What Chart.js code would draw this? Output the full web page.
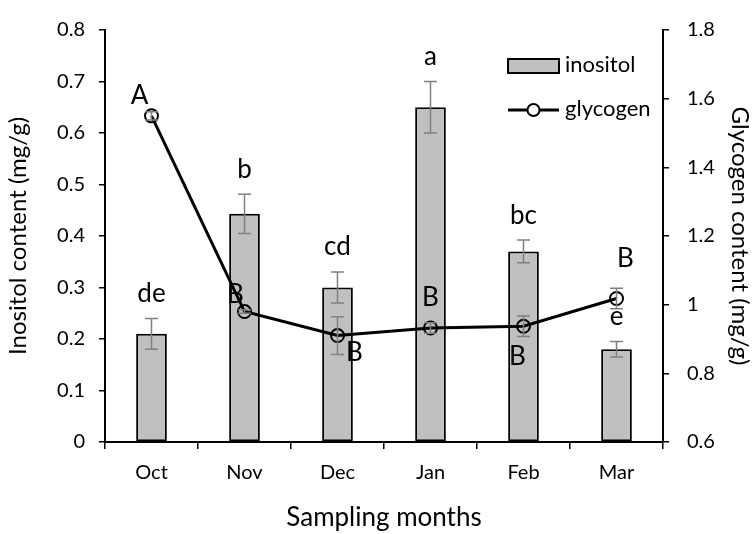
<!DOCTYPE html>
<html>
<head>
<meta charset="utf-8">
<script src="https://cdn.jsdelivr.net/npm/chart.js@4.4.1/dist/chart.umd.min.js"></script>
<style>
  html, body { margin: 0; padding: 0; background: #fff; }
  #wrap { width: 756px; height: 534px; }
</style>
</head>
<body>
<div id="wrap"><canvas id="chart" width="756" height="534"></canvas></div>
<script>
// Data
var months = ['Oct', 'Nov', 'Dec', 'Jan', 'Feb', 'Mar'];
var inositol = [0.21, 0.443, 0.30, 0.65, 0.37, 0.18];
var inositolErr = [0.03, 0.038, 0.03, 0.05, 0.022, 0.015];
var inositolLetters = ['de', 'b', 'cd', 'a', 'bc', 'e'];
var glycogen = [1.55, 0.98, 0.91, 0.932, 0.937, 1.018];
var glycogenErr = [0.012, 0.005, 0.055, 0.015, 0.03, 0.03];
var glycogenLetters = ['A', 'B', 'B', 'B', 'B', 'B'];

var FONT = 'Lato, "Open Sans", sans-serif';

// letter offsets (px) from each glycogen point
var glyOffsets = [[-12, -20], [-9, -17], [17, 17], [0, -30], [-6, 30], [9, -40]];

// error bars + significance letters
var annotatePlugin = {
    id: 'annotate',
    afterDatasetsDraw: function(chart) {
        var c = chart.ctx;
        var y = chart.scales.y;
        var y1 = chart.scales.y1;
        var barMeta = chart.getDatasetMeta(0);
        var lineMeta = chart.getDatasetMeta(1);
        c.save();
        c.strokeStyle = '#808080';
        c.lineWidth = 1.5;
        function errBar(x, yTop, yBot) {
            c.beginPath();
            c.moveTo(x, yTop); c.lineTo(x, yBot);
            c.moveTo(x - 6.5, yTop); c.lineTo(x + 6.5, yTop);
            c.moveTo(x - 6.5, yBot); c.lineTo(x + 6.5, yBot);
            c.stroke();
        }
        barMeta.data.forEach(function(bar, i) {
            errBar(bar.x, y.getPixelForValue(inositol[i] + inositolErr[i]), y.getPixelForValue(inositol[i] - inositolErr[i]));
        });
        lineMeta.data.forEach(function(pt, i) {
            errBar(pt.x, y1.getPixelForValue(glycogen[i] + glycogenErr[i]), y1.getPixelForValue(glycogen[i] - glycogenErr[i]));
        });
        c.fillStyle = '#000';
        c.font = '26px ' + FONT;
        c.textAlign = 'center';
        c.textBaseline = 'middle';
        barMeta.data.forEach(function(bar, i) {
            var top = y.getPixelForValue(inositol[i] + inositolErr[i]);
            c.fillText(inositolLetters[i], bar.x, top - 25);
        });
        lineMeta.data.forEach(function(pt, i) {
            c.fillText(glycogenLetters[i], pt.x + glyOffsets[i][0], pt.y + glyOffsets[i][1]);
        });
        c.restore();
    }
};

// legend drawn inside the plot area, top right
var legendPlugin = {
    id: 'insideLegend',
    afterDraw: function(chart) {
        var c = chart.ctx;
        var a = chart.chartArea;
        var x0 = a.right - 155;
        c.save();
        c.fillStyle = '#c0c0c0';
        c.strokeStyle = '#000';
        c.lineWidth = 2;
        c.fillRect(x0, 59, 51, 14);
        c.strokeRect(x0, 59, 51, 14);
        c.lineWidth = 3;
        c.beginPath();
        c.moveTo(x0, 110); c.lineTo(x0 + 51, 110);
        c.stroke();
        c.lineWidth = 2;
        c.fillStyle = '#fff';
        c.beginPath();
        c.arc(x0 + 25.5, 110, 6, 0, Math.PI * 2);
        c.fill();
        c.stroke();
        c.fillStyle = '#000';
        c.font = '22px ' + FONT;
        c.textAlign = 'left';
        c.textBaseline = 'middle';
        c.fillText(chart.data.datasets[0].label, x0 + 57, 65);
        c.fillText(chart.data.datasets[1].label, x0 + 57, 109);
        c.restore();
    }
};

var ctx = document.getElementById('chart').getContext('2d');

var myChart = new Chart(ctx, {
    type: 'bar',
    data: {
        labels: months,
        datasets: [{
            label: 'inositol',
            data: inositol,
            backgroundColor: '#c0c0c0',
            borderColor: '#000',
            borderWidth: 2,
            borderSkipped: false,
            barPercentage: 0.33,
            categoryPercentage: 1.0,
            yAxisID: 'y',
            order: 2
        }, {
            type: 'line',
            label: 'glycogen',
            data: glycogen,
            borderColor: '#000',
            borderWidth: 3,
            pointRadius: 6.5,
            pointBorderWidth: 2,
            pointBorderColor: '#000',
            pointBackgroundColor: 'rgba(0,0,0,0)',
            fill: false,
            tension: 0,
            yAxisID: 'y1',
            order: 1
        }]
    },
    options: {
        responsive: false,
        animation: false,
        layout: { padding: { top: 14, left: 0, right: 0, bottom: 0 } },
        scales: {
            x: {
                grid: { display: true, drawOnChartArea: false, offset: true, color: '#000', lineWidth: 1.5, tickLength: 7 },
                border: { display: true, color: '#000', width: 2 },
                ticks: { color: '#000', font: { family: FONT, size: 20 }, padding: 12 },
                title: { display: true, text: 'Sampling months', color: '#000', font: { family: FONT, size: 26 }, padding: { top: 10, bottom: 1 } },
                afterFit: function(s) { s.height = 92; }
            },
            y: {
                position: 'left',
                min: 0, max: 0.8,
                grid: { display: true, drawOnChartArea: false, color: '#000', lineWidth: 1.5, tickLength: 6 },
                border: { display: true, color: '#000', width: 2 },
                ticks: { stepSize: 0.1, color: '#000', font: { family: FONT, size: 20 }, padding: 14,
                    callback: function(v) { return Math.round(v * 10) / 10; } },
                title: { display: true, text: 'Inositol content (mg/g)', color: '#000', font: { family: FONT, size: 24 }, padding: { top: 4, bottom: 4 } },
                afterFit: function(s) { s.width = 105; }
            },
            y1: {
                position: 'right',
                min: 0.6, max: 1.8,
                grid: { display: true, drawOnChartArea: false, color: '#000', lineWidth: 1.5, tickLength: 6 },
                border: { display: true, color: '#000', width: 2 },
                ticks: { stepSize: 0.2, color: '#000', font: { family: FONT, size: 20 }, padding: 18,
                    callback: function(v) { return Math.round(v * 10) / 10; } },
                title: { display: true, text: 'Glycogen content (mg/g)', color: '#000', font: { family: FONT, size: 24 }, padding: { top: 2, bottom: 2 } },
                afterFit: function(s) { s.width = 93; }
            }
        },
        plugins: {
            legend: { display: false },
            tooltip: { enabled: false }
        }
    },
    plugins: [annotatePlugin, legendPlugin]
});
</script>
</body>
</html>
